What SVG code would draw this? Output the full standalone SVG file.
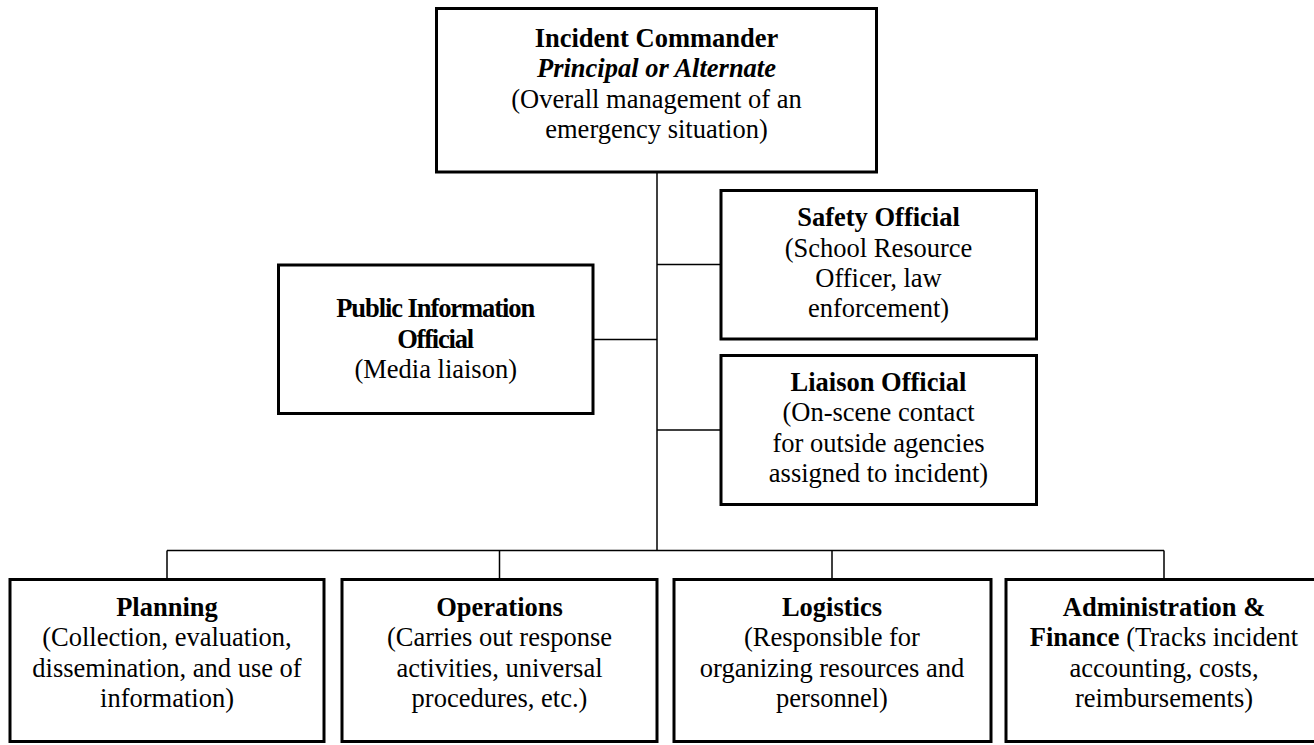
<svg xmlns="http://www.w3.org/2000/svg" width="1314" height="745" viewBox="0 0 1314 745">
<style>
.box{fill:#fff;stroke:#000;stroke-width:3}
.ln{stroke:#000;stroke-width:1.5;fill:none}
text{font-family:"Liberation Serif","Times New Roman",serif;font-size:26.5px;fill:#000;text-anchor:middle}
.b{font-weight:bold}
.bi{font-weight:bold;font-style:italic}
</style>
<rect width="1314" height="745" fill="#fff"/>
<g id="connectors">
<path class="ln" d="M657 173V551"/>
<path class="ln" d="M657 264.5H720"/>
<path class="ln" d="M657 430H720"/>
<path class="ln" d="M594 339.5H657"/>
<path class="ln" d="M167 550.5H1164"/>
<path class="ln" d="M167 550.5V578M499.5 550.5V578M832 550.5V578M1164 550.5V578"/>
</g>
<g id="incident-commander">
<rect class="box" x="436.5" y="8.5" width="440" height="163.5"/>
<text x="656.5" y="46.5" class="b">Incident Commander</text>
<text x="656.5" y="77" class="bi">Principal or Alternate</text>
<text x="656.5" y="107.5">(Overall management of an</text>
<text x="656.5" y="138">emergency situation)</text>
</g>
<g id="safety-official">
<rect class="box" x="721" y="190.5" width="315.5" height="148.5"/>
<text x="878.5" y="226" class="b">Safety Official</text>
<text x="878.5" y="256.5">(School Resource</text>
<text x="878.5" y="287">Officer, law</text>
<text x="878.5" y="317">enforcement)</text>
</g>
<g id="public-information-official">
<rect class="box" x="278.5" y="265" width="314.5" height="148.5"/>
<text x="435.7" y="317" class="b" textLength="199" lengthAdjust="spacing">Public Information</text>
<text x="435.7" y="347.5" class="b" textLength="77" lengthAdjust="spacing">Official</text>
<text x="435.7" y="378">(Media liaison)</text>
</g>
<g id="liaison-official">
<rect class="box" x="721" y="355.5" width="315.5" height="149"/>
<text x="878.5" y="391" class="b">Liaison Official</text>
<text x="878.5" y="421.3">(On-scene contact</text>
<text x="878.5" y="451.6">for outside agencies</text>
<text x="878.5" y="482">assigned to incident)</text>
</g>
<g id="planning">
<rect class="box" x="10" y="579.5" width="314" height="162"/>
<text x="167" y="615.5" class="b">Planning</text>
<text x="167" y="646">(Collection, evaluation,</text>
<text x="167" y="676.5">dissemination, and use of</text>
<text x="167" y="707">information)</text>
</g>
<g id="operations">
<rect class="box" x="342" y="579.5" width="315" height="162"/>
<text x="499.5" y="615.5" class="b">Operations</text>
<text x="499.5" y="646">(Carries out response</text>
<text x="499.5" y="676.5">activities, universal</text>
<text x="499.5" y="707">procedures, etc.)</text>
</g>
<g id="logistics">
<rect class="box" x="674" y="579.5" width="317" height="162"/>
<text x="832" y="615.5" class="b">Logistics</text>
<text x="832" y="646">(Responsible for</text>
<text x="832" y="676.5">organizing resources and</text>
<text x="832" y="707">personnel)</text>
</g>
<g id="administration-finance">
<rect class="box" x="1006" y="579.5" width="316" height="162"/>
<text x="1164" y="615.5" class="b">Administration &amp;</text>
<text x="1164" y="646"><tspan class="b">Finance</tspan> (Tracks incident</text>
<text x="1164" y="676.5">accounting, costs,</text>
<text x="1164" y="707">reimbursements)</text>
</g>
</svg>
